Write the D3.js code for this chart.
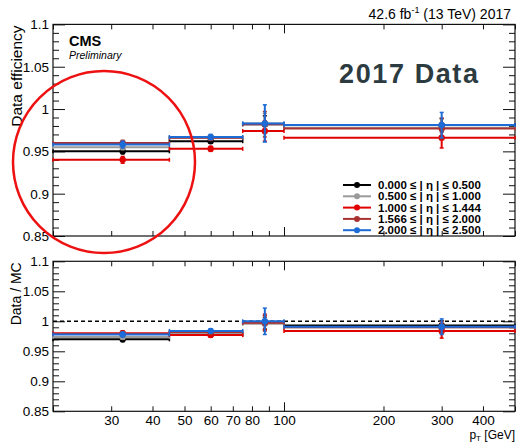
<!DOCTYPE html>
<html>
<head>
<meta charset="utf-8">
<script src="https://cdn.jsdelivr.net/npm/d3@7"></script>
<style>
  html, body { margin: 0; padding: 0; background: #fff; }
  svg { display: block; font-family: "Liberation Sans", Arial, sans-serif; }
</style>
</head>
<body>
<svg id="chart" width="516" height="442"></svg>
<script>
// pT bins (GeV) and the point position inside each bin
const binEdges = [20, 45, 75, 100, 500];
const binCenters = [32.5, 60, 87.5, 300];

// |eta| slices
const etaLabels = [
  "0.000 \u2264 | \u03b7 | \u2264 0.500",
  "0.500 \u2264 | \u03b7 | \u2264 1.000",
  "1.000 \u2264 | \u03b7 | \u2264 1.444",
  "1.566 \u2264 | \u03b7 | \u2264 2.000",
  "2.000 \u2264 | \u03b7 | \u2264 2.500"
];
const etaColors = ["#000000", "#9a9a9a", "#e00000", "#a83232", "#1c6bd6"];

// data efficiency per eta slice, one value per pT bin
const effBlack   = [0.950, 0.962, 0.982, 0.981];
const effGray    = [0.955, 0.966, 0.983, 0.978];
const effRed     = [0.940, 0.953, 0.974, 0.966];
const effDarkRed = [0.960, 0.966, 0.982, 0.977];
const effBlue    = [0.958, 0.967, 0.983, 0.981];

const effErrBlack   = [0.003, 0.002, 0.010, 0.008];
const effErrGray    = [0.003, 0.002, 0.012, 0.010];
const effErrRed     = [0.004, 0.003, 0.012, 0.012];
const effErrDarkRed = [0.003, 0.003, 0.015, 0.012];
const effErrBlue    = [0.004, 0.003, 0.022, 0.015];

// data / MC scale factors
const sfBlack   = [0.970, 0.978, 0.997, 0.993];
const sfGray    = [0.974, 0.980, 0.996, 0.990];
const sfRed     = [0.980, 0.977, 0.998, 0.984];
const sfDarkRed = [0.979, 0.982, 0.998, 0.990];
const sfBlue    = [0.978, 0.984, 1.000, 0.991];

const sfErrBlack   = [0.004, 0.003, 0.010, 0.008];
const sfErrGray    = [0.004, 0.003, 0.012, 0.009];
const sfErrRed     = [0.004, 0.003, 0.012, 0.012];
const sfErrDarkRed = [0.004, 0.003, 0.014, 0.010];
const sfErrBlue    = [0.004, 0.003, 0.022, 0.013];

const effSeries = [effBlack, effGray, effRed, effDarkRed, effBlue];
const effErrs   = [effErrBlack, effErrGray, effErrRed, effErrDarkRed, effErrBlue];
const sfSeries  = [sfBlack, sfGray, sfRed, sfDarkRed, sfBlue];
const sfErrs    = [sfErrBlack, sfErrGray, sfErrRed, sfErrDarkRed, sfErrBlue];

const yMajorTicks = [0.85, 0.9, 0.95, 1.0, 1.05, 1.1];
const xLabelTicks = [30, 40, 50, 60, 70, 80, 100, 200, 300, 400];
const xMinorTicks = [20, 30, 40, 50, 60, 70, 80, 90, 200, 300, 400, 500];
const xMajorTicks = [100];

const svg = d3.select("#chart");
const left = 53, right = 515;
const topPanel = { y0: 24.4, y1: 236 };
const botPanel = { y0: 261.3, y1: 411.3 };

const x = d3.scaleLog().domain([20, 500]).range([left, right]);
const yTop = d3.scaleLinear().domain([0.85, 1.1]).range([topPanel.y1, topPanel.y0]);
const yBot = d3.scaleLinear().domain([0.85, 1.1]).range([botPanel.y1, botPanel.y0]);

const yMinorTicks = d3.range(85, 111).map(v => v / 100).filter(v => !yMajorTicks.some(m => Math.abs(m - v) < 1e-9));
const fmtY = d => String(+d.toFixed(2));

function drawFrame(y, p, showXLabels) {
  const g = svg.append("g");
  // y axes, ticks pointing inward, both sides
  g.append("g").attr("transform", `translate(${left},0)`)
    .call(d3.axisLeft(y).tickValues(yMajorTicks).tickSize(-12).tickPadding(4).tickFormat(fmtY));
  g.append("g").attr("transform", `translate(${left},0)`)
    .call(d3.axisLeft(y).tickValues(yMinorTicks).tickSize(-6).tickFormat(""));
  g.append("g").attr("transform", `translate(${right},0)`)
    .call(d3.axisRight(y).tickValues(yMajorTicks).tickSize(-12).tickFormat(""));
  g.append("g").attr("transform", `translate(${right},0)`)
    .call(d3.axisRight(y).tickValues(yMinorTicks).tickSize(-6).tickFormat(""));
  // x axes
  g.append("g").attr("transform", `translate(0,${p.y1})`)
    .call(d3.axisBottom(x).tickValues(xMinorTicks).tickSize(-5).tickPadding(4)
      .tickFormat(d => showXLabels && xLabelTicks.includes(d) ? String(d) : ""));
  g.append("g").attr("transform", `translate(0,${p.y1})`)
    .call(d3.axisBottom(x).tickValues(xMajorTicks).tickSize(-9).tickPadding(4)
      .tickFormat(d => showXLabels ? String(d) : ""));
  g.append("g").attr("transform", `translate(0,${p.y0})`)
    .call(d3.axisTop(x).tickValues(xMinorTicks).tickSize(-5).tickFormat(""));
  g.append("g").attr("transform", `translate(0,${p.y0})`)
    .call(d3.axisTop(x).tickValues(xMajorTicks).tickSize(-9).tickFormat(""));
  g.selectAll(".domain").remove();
  g.selectAll(".tick line").attr("stroke", "#111").attr("stroke-width", 1);
  g.selectAll(".tick text").attr("fill", "#000").attr("font-size", 13.5)
    .attr("font-family", "Liberation Sans, Arial, sans-serif");
  g.append("rect").attr("x", left).attr("y", p.y0)
    .attr("width", right - left).attr("height", p.y1 - p.y0)
    .attr("fill", "none").attr("stroke", "#111").attr("stroke-width", 1.2);
}

function drawSeries(y, series, errs) {
  const g = svg.append("g");
  series.forEach((vals, s) => {
    const col = etaColors[s];
    const sg = g.append("g").attr("stroke", col).attr("fill", col);
    vals.forEach((v, i) => {
      const x0 = x(binEdges[i]), x1 = x(binEdges[i + 1]), xc = x(binCenters[i]);
      const yv = y(v), ye0 = y(v - errs[s][i]), ye1 = y(v + errs[s][i]);
      // horizontal bin-width bar with end caps
      sg.append("line").attr("x1", x0).attr("x2", x1).attr("y1", yv).attr("y2", yv).attr("stroke-width", 2);
      sg.append("line").attr("x1", x0).attr("x2", x0).attr("y1", yv - 2).attr("y2", yv + 2).attr("stroke-width", 1.5);
      sg.append("line").attr("x1", x1).attr("x2", x1).attr("y1", yv - 2).attr("y2", yv + 2).attr("stroke-width", 1.5);
      // vertical error bar with end caps
      sg.append("line").attr("x1", xc).attr("x2", xc).attr("y1", ye0).attr("y2", ye1).attr("stroke-width", 2);
      sg.append("line").attr("x1", xc - 2).attr("x2", xc + 2).attr("y1", ye0).attr("y2", ye0).attr("stroke-width", 1.5);
      sg.append("line").attr("x1", xc - 2).attr("x2", xc + 2).attr("y1", ye1).attr("y2", ye1).attr("stroke-width", 1.5);
      sg.append("circle").attr("cx", xc).attr("cy", yv).attr("r", 3.2).attr("stroke", "none");
    });
  });
}

// top panel
drawFrame(yTop, topPanel, false);
drawSeries(yTop, effSeries, effErrs);

// bottom panel
drawFrame(yBot, botPanel, true);
svg.append("line").attr("x1", left).attr("x2", right)
  .attr("y1", yBot(1)).attr("y2", yBot(1))
  .attr("stroke", "#000").attr("stroke-width", 1.5).attr("stroke-dasharray", "4,3");
drawSeries(yBot, sfSeries, sfErrs);

// axis titles
svg.append("text").attr("transform", `translate(22,${topPanel.y0 + 1}) rotate(-90)`)
  .attr("text-anchor", "end").attr("font-size", 15.5).text("Data efficiency");
svg.append("text").attr("transform", `translate(21,${botPanel.y0 + 1}) rotate(-90)`)
  .attr("text-anchor", "end").attr("font-size", 14).text("Data / MC");
const xt = svg.append("text").attr("x", 515).attr("y", 439).attr("text-anchor", "end").attr("font-size", 12);
xt.append("tspan").text("p");
xt.append("tspan").attr("font-size", 8).attr("dy", 2).text("T");
xt.append("tspan").attr("dy", -2).text("  [GeV]");

// header and labels
const hd = svg.append("text").attr("x", 511).attr("y", 19).attr("text-anchor", "end").attr("font-size", 14);
hd.append("tspan").text("42.6 fb");
hd.append("tspan").attr("font-size", 9).attr("dy", -6).text("-1");
hd.append("tspan").attr("dy", 6).text(" (13 TeV) 2017");

svg.append("text").attr("x", 69).attr("y", 46).attr("font-size", 14.5).attr("font-weight", "bold").text("CMS");
svg.append("text").attr("x", 69).attr("y", 59).attr("font-size", 10.5).attr("font-style", "italic").text("Preliminary");

svg.append("text").attr("x", 339).attr("y", 83).attr("font-size", 27).attr("font-weight", "bold")
  .attr("fill", "#2c3b40").attr("textLength", 139).attr("lengthAdjust", "spacing").text("2017 Data");

// legend
const lg = svg.append("g");
etaLabels.forEach((lab, i) => {
  const ly = 185 + i * 11.3;
  lg.append("line").attr("x1", 343).attr("x2", 371).attr("y1", ly).attr("y2", ly)
    .attr("stroke", etaColors[i]).attr("stroke-width", 2);
  lg.append("circle").attr("cx", 357).attr("cy", ly).attr("r", 3).attr("fill", etaColors[i]);
  lg.append("text").attr("x", 378).attr("y", ly + 4).attr("font-size", 11.5).attr("font-weight", "bold").text(lab);
});

// highlight ring around the low-pT bin
svg.append("circle").attr("cx", 104).attr("cy", 162).attr("r", 91)
  .attr("fill", "none").attr("stroke", "#ee1111").attr("stroke-width", 2.5);
</script>
</body>
</html>
